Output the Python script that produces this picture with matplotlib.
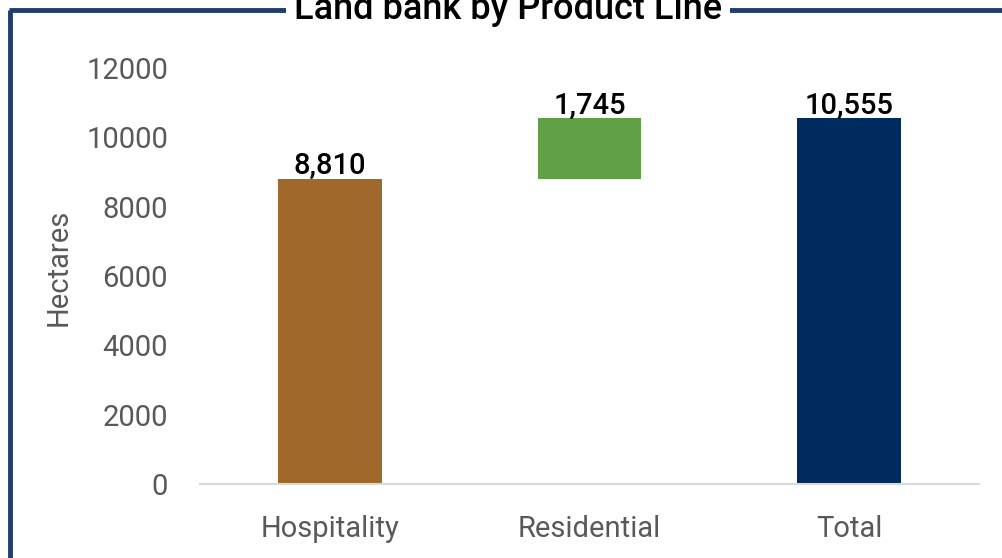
import matplotlib
matplotlib.use("Agg")
import matplotlib.pyplot as plt
from matplotlib.lines import Line2D

# Land bank waterfall data (hectares)
categories = ["Hospitality", "Residential", "Total"]
values = [8810, 1745, 10555]
bar_colors = ["#A0682A", "#61A046", "#002B5E"]

plt.rcParams['font.family'] = ['Roboto', 'DejaVu Sans']

fig = plt.figure(figsize=(10.03, 5.58), dpi=100)
ax = fig.add_axes([200 / 1003, 1 - 484 / 558, 779 / 1003, 416 / 558])

# floating step for the middle bar, totals sit on zero
bottoms = [0, values[0], 0]
heights = [values[0], values[1], values[2]]
x = range(len(categories))
ax.bar(x, heights, bottom=bottoms, width=0.4, color=bar_colors, zorder=2)

for i, (b, h, v) in enumerate(zip(bottoms, heights, values)):
    ax.text(i, b + h + 130, f"{v:,}", ha="center", va="baseline",
            fontsize=21, color="black", fontweight="medium")

ax.set_xlim(-0.5, 2.5)
ax.set_ylim(0, 12000)
ax.set_yticks(range(0, 12001, 2000))
ax.set_xticks(list(x))
ax.set_xticklabels(categories)
ax.tick_params(axis="both", length=0, labelsize=21, labelcolor="#595959")
ax.tick_params(axis="y", pad=23)
ax.tick_params(axis="x", pad=22)

for side in ["top", "right", "left"]:
    ax.spines[side].set_visible(False)
ax.spines["bottom"].set_color("#D9D9D9")
ax.spines["bottom"].set_linewidth(1.5)

ax.set_ylabel("Hectares", fontsize=21, color="#595959")
ax.yaxis.set_label_coords(-0.163, 0.52)

# navy frame around the chart, open at right and bottom
frame_color = "#1F3C6E"
fig.add_artist(Line2D([10 / 1003, 10 / 1003], [0, 1 - 10 / 558],
                      transform=fig.transFigure, color=frame_color, lw=3.5,
                      solid_capstyle="butt"))
fig.add_artist(Line2D([9 / 1003, 1], [1 - 10 / 558, 1 - 10 / 558],
                      transform=fig.transFigure, color=frame_color, lw=3.5,
                      solid_capstyle="butt"))

fig.text(508 / 1003, 1 - 19 / 558, "Land bank by Product Line", ha="center",
         va="baseline", fontsize=26, color="black", fontweight="medium",
         bbox=dict(facecolor="white", edgecolor="none", pad=6))

fig.savefig("out.png", dpi=100)
